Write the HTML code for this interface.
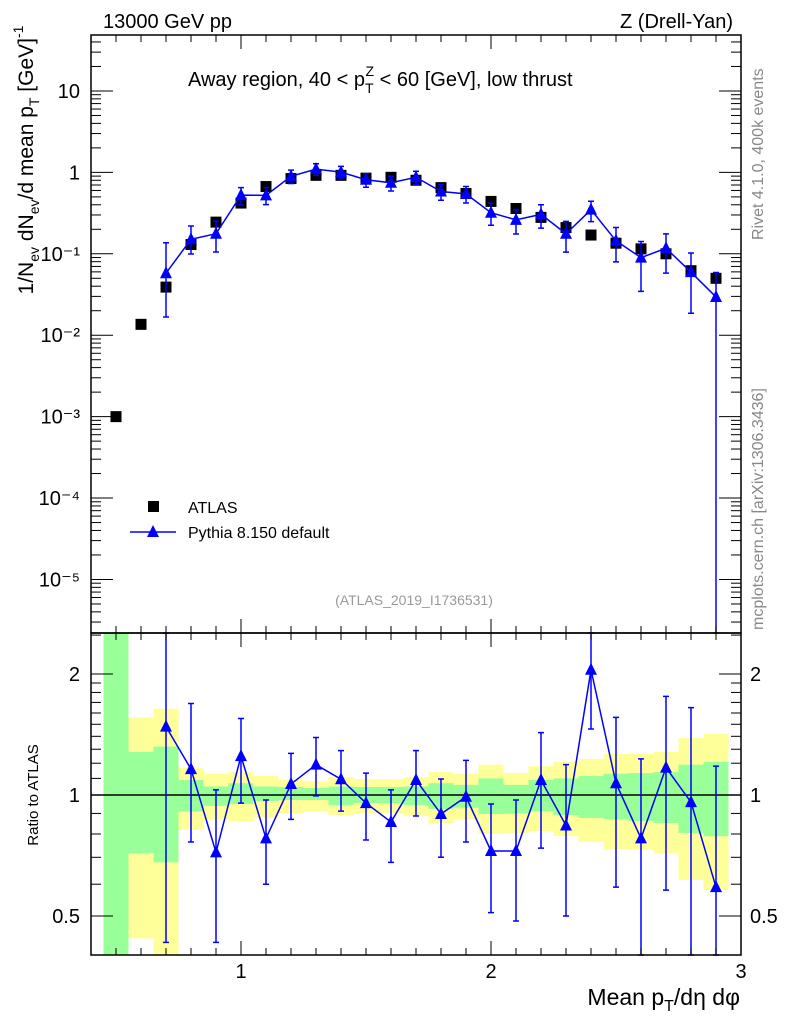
<!DOCTYPE html>
<html><head><meta charset="utf-8"><style>
body{margin:0;background:#fff}
svg{display:block;font-family:"Liberation Sans",sans-serif}
</style></head><body>
<svg id="c" width="786" height="1024" viewBox="0 0 786 1024" xmlns="http://www.w3.org/2000/svg">
<text x="103" y="28" font-size="20">13000 GeV pp</text>
<text x="733" y="28" font-size="20" text-anchor="end">Z (Drell-Yan)</text>
<text x="188" y="86" font-size="20">Away region, 40 &lt; p<tspan font-size="14" dy="7">T</tspan><tspan font-size="14" dx="-8" dy="-17">Z</tspan><tspan dy="10"> &lt; 60 [GeV], low thrust</tspan></text>
<text transform="translate(33,160) rotate(-90)" font-size="21" text-anchor="middle">1/N<tspan font-size="14" dy="6">ev</tspan><tspan dy="-6"> dN</tspan><tspan font-size="14" dy="6">ev</tspan><tspan dy="-6">/d mean p</tspan><tspan font-size="14" dy="6">T</tspan><tspan dy="-6"> [GeV]</tspan><tspan font-size="14" dy="-10">-1</tspan></text>
<text transform="translate(763,240) rotate(-90)" font-size="16" fill="#888">Rivet 4.1.0,  400k events</text>
<text transform="translate(763,630) rotate(-90)" font-size="16" fill="#888">mcplots.cern.ch [arXiv:1306.3436]</text>
<text x="414" y="605" font-size="14" fill="#999" text-anchor="middle">(ATLAS_2019_I1736531)</text>
<text transform="translate(38,795) rotate(-90)" font-size="15" text-anchor="middle">Ratio to ATLAS</text>
<text x="740" y="1005" font-size="23" text-anchor="end">Mean p<tspan font-size="16" dy="6">T</tspan><tspan dy="-6">/dη dφ</tspan></text>
<rect x="148" y="501" width="11" height="11" fill="#000"/>
<text x="188" y="513" font-size="16">ATLAS</text>
<line x1="130" y1="532" x2="176" y2="532" stroke="#00f" stroke-width="1.5"/>
<polygon points="153,525 147,537 159,537" fill="#00f"/>
<text x="188" y="538" font-size="16">Pythia 8.150 default</text>
<g id="bands"></g><g id="marks"></g><g id="axes"></g>
</svg>
<script>
const xs=[0.5,0.6,0.7,0.8,0.9,1.0,1.1,1.2,1.3,1.4,1.5,1.6,1.7,1.8,1.9,2.0,2.1,2.2,2.3,2.4,2.5,2.6,2.7,2.8,2.9];
const atlas=[0.001,0.0136,0.039,0.13,0.245,0.42,0.67,0.84,0.92,0.92,0.85,0.87,0.8,0.65,0.55,0.44,0.36,0.28,0.21,0.17,0.135,0.115,0.1,0.062,0.05];
const mcX=[0.7,0.8,0.9,1.0,1.1,1.2,1.3,1.4,1.5,1.6,1.7,1.8,1.9,2.0,2.1,2.2,2.3,2.4,2.5,2.6,2.7,2.8,2.9];
const mcRatio=[1.48,1.16,0.72,1.25,0.78,1.065,1.19,1.095,0.955,0.857,1.09,0.897,0.99,0.726,0.726,1.09,0.84,2.05,1.07,0.78,1.17,0.96,0.59];
const mcRatioHi=[3.5,1.69,1.03,1.55,0.972,1.27,1.39,1.29,1.134,1.03,1.29,1.096,1.22,0.95,0.972,1.43,1.19,2.6,1.56,1.23,1.76,1.65,1.18];
const mcRatioLo=[0.43,0.764,0.43,0.955,0.60,0.87,0.995,0.912,0.773,0.68,0.887,0.70,0.764,0.51,0.486,0.738,0.50,1.46,0.59,0.3,0.58,0.3,0.00001];
const yelHi=[3,1.56,1.64,1.17,1.13,1.14,1.115,1.09,1.083,1.109,1.096,1.096,1.109,1.14,1.13,1.19,1.134,1.18,1.21,1.23,1.265,1.265,1.28,1.386,1.42];
const grnHi=[3,1.28,1.32,1.09,1.05,1.07,1.05,1.047,1.041,1.05,1.047,1.047,1.05,1.07,1.06,1.10,1.06,1.09,1.10,1.115,1.13,1.134,1.14,1.19,1.21];
const grnLo=[0.3,0.717,0.68,0.91,0.94,0.95,0.966,0.972,0.972,0.944,0.955,0.955,0.944,0.923,0.93,0.897,0.90,0.912,0.892,0.877,0.87,0.862,0.852,0.805,0.79];
const yelLo=[0.3,0.44,0.3,0.82,0.87,0.86,0.877,0.902,0.91,0.892,0.902,0.902,0.887,0.852,0.87,0.80,0.805,0.813,0.79,0.764,0.734,0.73,0.717,0.615,0.58];
const xTicks=[1,2,3];
const yMainLabels=[[10,"10"],[1,"1"],[0.1,"10⁻¹"],[0.01,"10⁻²"],[0.001,"10⁻³"],[1e-4,"10⁻⁴"],[1e-5,"10⁻⁵"]];
const yRatioLabels=[[0.5,"0.5"],[1,"1"],[2,"2"]];

const L=91,R=741,T=35,MB=633,RB=955;
const X=v=>L+(v-0.4)/(3.0-0.4)*(R-L);
const lmin=Math.log10(2.2e-6),lmax=Math.log10(48.7);
const Y=v=>MB-(Math.log10(Math.max(v,1e-9))-lmin)/(lmax-lmin)*(MB-T);
const Yc=v=>Math.min(MB,Math.max(T,Y(v)));
const rmin=Math.log2(0.4),rmax=Math.log2(2.53);
const YR=v=>Math.min(RB,Math.max(MB,RB-(Math.log2(Math.max(v,1e-6))-rmin)/(rmax-rmin)*(RB-MB)));
const NS="http://www.w3.org/2000/svg";
function el(p,t,a){const e=document.createElementNS(NS,t);for(const k in a)e.setAttribute(k,a[k]);p.appendChild(e);return e;}
const bands=document.getElementById('bands'),marks=document.getElementById('marks'),axes=document.getElementById('axes');

xs.forEach((x,i)=>{
 const x0=X(x-0.05),w=X(x+0.05)-x0;
 let r=el(bands,'rect',{x:x0,y:YR(yelHi[i]),width:w,height:YR(yelLo[i])-YR(yelHi[i]),fill:'#ffff99'});
 
 
 r=el(bands,'rect',{x:x0,y:YR(grnHi[i]),width:w,height:YR(grnLo[i])-YR(grnHi[i]),fill:'#99ff99'});
 
 
});
let ln=el(marks,'line',{x1:L,x2:R,y1:YR(1),y2:YR(1),stroke:'#000','stroke-width':1.5});



xs.forEach((x,i)=>{
 const r=el(marks,'rect',{x:X(x)-5.5,y:Y(atlas[i])-5.5,width:11,height:11,fill:'#000'});
 
 
});
const mcVal=mcX.map((x,i)=>atlas[xs.indexOf(x)]*mcRatio[i]);
function series(yf,vals,hi,lo,name){
 const p=el(marks,'polyline',{points:mcX.map((x,i)=>X(x)+','+yf(vals[i])).join(' '),fill:'none',stroke:'#00f','stroke-width':1.5});
 
 
 mcX.forEach((x,i)=>{
  const cx=X(x),yh=yf(hi[i]),yl=yf(lo[i]);
  const e=el(marks,'path',{d:`M${cx},${yh}V${yl}M${cx-3},${yh}h6M${cx-3},${yl}h6`,stroke:'#00f','stroke-width':1.5,fill:'none'});
  
  
  const cy=yf(vals[i]);
  const t=el(marks,'polygon',{points:`${cx},${cy-7} ${cx-6},${cy+5} ${cx+6},${cy+5}`,fill:'#00f'});
  
  
 });
}
series(Yc,mcVal,mcX.map((x,i)=>atlas[xs.indexOf(x)]*mcRatioHi[i]),mcX.map((x,i)=>atlas[xs.indexOf(x)]*mcRatioLo[i]),'pythia');
series(YR,mcRatio,mcRatioHi,mcRatioLo,'pythia-ratio');

function tick(x1,y1,x2,y2){el(axes,'line',{x1,y1,x2,y2,stroke:'#000','stroke-width':1});}
[[T,MB],[MB,RB]].forEach(([a,b])=>{
 const f=el(axes,'rect',{x:L,y:a,width:R-L,height:b-a,fill:'none',stroke:'#000','stroke-width':1.5});
 
 
 for(let v=0.4;v<=3.001;v+=0.1){
  const maj=xTicks.some(t=>Math.abs(t-v)<1e-6),len=maj?14:7,x=X(v);
  tick(x,a,x,a+len);tick(x,b,x,b-len);
 }
});
for(let d=-6;d<=1;d++)for(let m=1;m<=9;m++){
 const v=m*Math.pow(10,d),y=Y(v);if(y<T||y>MB)continue;
 const len=m==1?22:10;tick(L,y,L+len,y);tick(R,y,R-len,y);
}
for(const v of [0.4,0.5,0.6,0.7,0.8,0.9,1,1.1,1.2,1.3,1.4,1.5,1.6,1.7,1.8,1.9,2,2.5]){
 const y=YR(v);if(y<=MB||y>=RB)continue;
 const len=(v==0.5||v==1||v==2)?22:10;tick(L,y,L+len,y);tick(R,y,R-len,y);
}
xTicks.forEach(v=>{
 const t=el(axes,'text',{x:X(v),y:978,'font-size':20,'text-anchor':'middle'});t.textContent=v;
 
 
});
yMainLabels.forEach(([v,s])=>{
 const t=el(axes,'text',{x:80,y:Y(v)+7,'font-size':20,'text-anchor':'end'});t.textContent=s;
 
 
});
yRatioLabels.forEach(([v,s])=>{
 let t=el(axes,'text',{x:80,y:YR(v)+7,'font-size':20,'text-anchor':'end'});t.textContent=s;
 
 
 t=el(axes,'text',{x:750,y:YR(v)+7,'font-size':20});t.textContent=s;
 
 
});
</script>
</body></html>
